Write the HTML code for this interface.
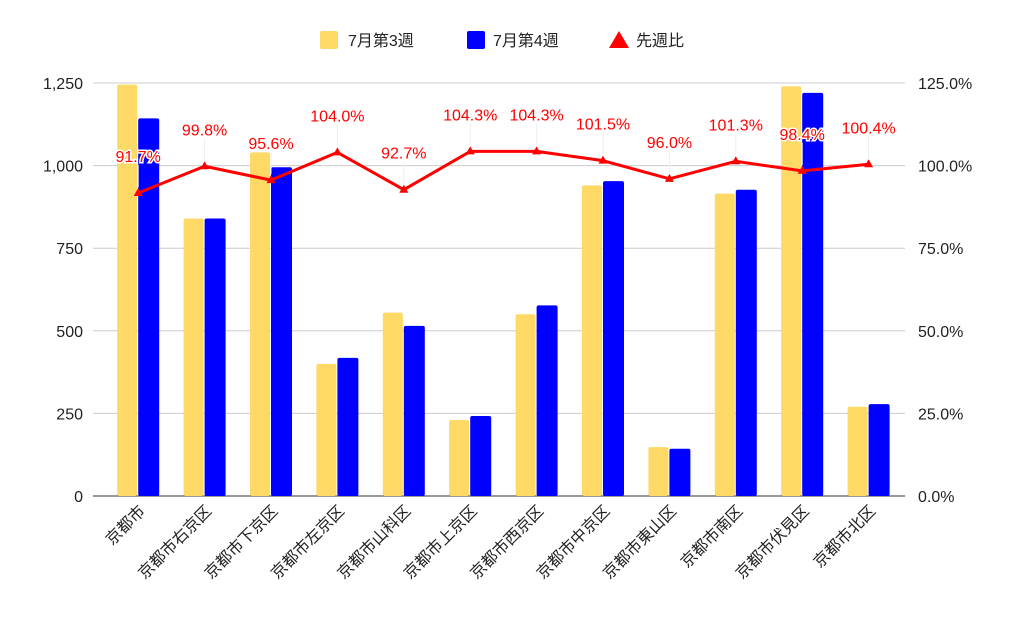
<!DOCTYPE html>
<html><head><meta charset="utf-8"><style>
body{margin:0;background:#fff;}
svg text{font-family:"Liberation Sans","Noto Sans CJK JP",sans-serif;}
</style></head><body>
<svg id="chart" width="1024" height="633" xmlns="http://www.w3.org/2000/svg">
<rect width="1024" height="633" fill="#fff"/>
<g id="legend">
 <g><rect x="320" y="31" width="18" height="18" rx="2" fill="#ffd966"/><text x="348" y="46" font-size="16" fill="#222">7月第3週</text></g>
 <g><rect x="467" y="31" width="18" height="18" rx="2" fill="#0000ff"/><text x="493" y="46" font-size="16" fill="#222">7月第4週</text></g>
 <g><polygon points="619,31 629,48 609,48" fill="#ff0000"/><text x="636" y="46" font-size="16" fill="#222">先週比</text></g>
</g>
<g id="grid"></g><g id="bars"></g><g id="line"></g><g id="labels"></g><g id="xlabels"></g>
</svg>
<script>
const categories=["京都市","京都市右京区","京都市下京区","京都市左京区","京都市山科区","京都市上京区","京都市西京区","京都市中京区","京都市東山区","京都市南区","京都市伏見区","京都市北区"];
const week3=[1245,840,1040,400,555,230,550,940,148,915,1240,270];
const week4=[1143,840,995,418,515,242,577,953,143,927,1220,278];
const ratio=[91.7,99.8,95.6,104.0,92.7,104.3,104.3,101.5,96.0,101.3,98.4,100.4];
const leftTicks=[0,250,500,750,1000,1250];
const leftTickLabels=["0","250","500","750","1,000","1,250"];
const rightTicks=[0,25,50,75,100,125];
const rightTickLabels=["0.0%","25.0%","50.0%","75.0%","100.0%","125.0%"];
const NS="http://www.w3.org/2000/svg";
const y0=496,yTop=83,plotL=93,plotR=905,bandL=105,bandW=66.4,barW=21;
const yL=v=>y0-(v/1250)*(y0-yTop);
const yR=v=>y0-(v/125)*(y0-yTop);
const xC=i=>bandL+bandW*(i+0.5);
function mk(tag,attrs,parent){const e=document.createElementNS(NS,tag);for(const k in attrs)e.setAttribute(k,attrs[k]);document.getElementById(parent).appendChild(e);return e;}
leftTicks.forEach((t,i)=>{
 const l=mk('line',{x1:plotL,x2:plotR,y1:yL(t),y2:yL(t),stroke:t===0?'#333':'#ccc','stroke-width':1},'grid');
 
 
 const tx=mk('text',{x:83,y:yL(t)+6,'font-size':16,fill:'#222','text-anchor':'end'},'grid');tx.textContent=leftTickLabels[i];
 
 
});
rightTicks.forEach((t,i)=>{
 const tx=mk('text',{x:918,y:yR(t)+6,'font-size':16,fill:'#222'},'grid');tx.textContent=rightTickLabels[i];
 
 
});
categories.forEach((c,i)=>{
 const cx=xC(i);
 const b1=mk('rect',{x:cx-barW,y:yL(week3[i]),width:barW-1,height:y0-yL(week3[i]),fill:'#ffd966',rx:2},'bars');
 
 
 const b2=mk('rect',{x:cx,y:yL(week4[i]),width:barW,height:y0-yL(week4[i]),fill:'#0000ff',rx:2},'bars');
 
 
 const xl=mk('text',{x:0,y:0,'font-size':16,fill:'#222','text-anchor':'end',transform:`translate(${cx+8},${512}) rotate(-45)`},'xlabels');xl.textContent=c;
 
 
});
const pts=ratio.map((r,i)=>xC(i)+','+yR(r)).join(' ');
const pl=mk('polyline',{points:pts,fill:'none',stroke:'#ff0000','stroke-width':3,'stroke-linejoin':'round'},'line');


ratio.forEach((r,i)=>{
 const x=xC(i),y=yR(r);
 const p=mk('polygon',{points:`${x},${y-5} ${x+4.5},${y+3} ${x-4.5},${y+3}`,fill:'#ff0000'},'line');
 
 
 const ln=mk('line',{x1:x,x2:x,y1:y-28,y2:y-6,stroke:'#eee','stroke-width':1},'labels');
 
 
 const t=mk('text',{x:x,y:y-31,'font-size':16,fill:'#ff0000','text-anchor':'middle',stroke:'#fff','stroke-width':3,'paint-order':'stroke'},'labels');t.textContent=r.toFixed(1)+'%';
 
 
});
</script>
</body></html>
